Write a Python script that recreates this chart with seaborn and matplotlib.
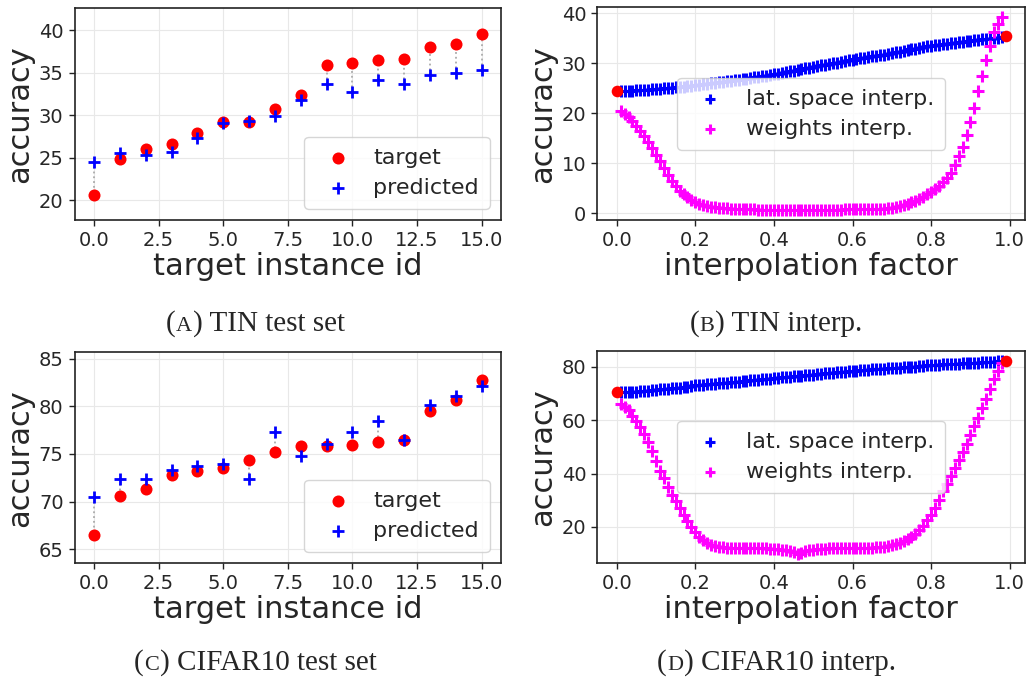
"""
Target vs predicted accuracy and interpolation curves (TIN / CIFAR10)
"""

import numpy as np
import pandas as pd
import matplotlib
matplotlib.use("Agg")
import matplotlib.pyplot as plt
import seaborn as sns
from matplotlib.offsetbox import TextArea, HPacker, AnchoredOffsetbox

# ---- data: per-instance accuracy ----
instance_ids = list(range(16))

tin_target = [20.7, 24.9, 26.0, 26.7, 27.9, 29.2, 29.2, 30.75, 32.4, 35.95,
              36.15, 36.5, 36.6, 38.1, 38.4, 39.6]
tin_predicted = [24.5, 25.6, 25.4, 25.7, 27.4, 29.1, 29.4, 29.9, 31.8, 33.7,
                 32.7, 34.2, 33.7, 34.7, 35.0, 35.4]

cifar_target = [66.5, 70.6, 71.35, 72.8, 73.25, 73.55, 74.35, 75.2, 75.8, 75.85,
                75.9, 76.3, 76.5, 79.5, 80.65, 82.8]
cifar_predicted = [70.5, 72.4, 72.4, 73.3, 73.7, 73.9, 72.4, 77.3, 74.8, 76.0,
                   77.35, 78.5, 76.45, 80.15, 81.1, 82.2]

# ---- data: interpolation curves ----
interp_factor = np.arange(1, 99) / 100
endpoint_x = [0.0, 0.99]

tin_latent = [24.4, 24.4, 24.5, 24.5, 24.6, 24.6, 24.7, 24.7, 24.8, 24.9,
              24.9, 25.0, 25.0, 25.1, 25.2, 25.2, 25.3, 25.4, 25.5, 25.6,
              25.7, 25.8, 25.9, 26.0, 26.1, 26.2, 26.3, 26.4, 26.5, 26.6,
              26.7, 26.8, 26.9, 27.0, 27.2, 27.3, 27.4, 27.5, 27.7, 27.8,
              27.9, 28.1, 28.2, 28.4, 28.5, 28.7, 28.8, 29.0, 29.1, 29.3,
              29.4, 29.6, 29.7, 29.9, 30.0, 30.1, 30.3, 30.4, 30.6, 30.7,
              30.8, 31.0, 31.1, 31.2, 31.4, 31.5, 31.6, 31.7, 31.9, 32.0,
              32.2, 32.3, 32.5, 32.6, 32.8, 32.9, 33.1, 33.2, 33.4, 33.5,
              33.6, 33.7, 33.8, 33.9, 34.0, 34.1, 34.2, 34.3, 34.4, 34.5,
              34.6, 34.7, 34.8, 34.9, 34.9, 35.0, 35.1, 35.2]
tin_weights = [20.5, 19.8, 19.2, 18.5, 17.5, 16.5, 15.5, 14.3, 13.1, 11.7,
               10.5, 9.0, 7.7, 6.5, 5.5, 4.5, 3.8, 3.2, 2.7, 2.3,
               1.9, 1.7, 1.5, 1.3, 1.2, 1.1, 1.0, 1.0, 0.9, 0.9,
               0.9, 0.8, 0.8, 0.8, 0.8, 0.7, 0.7, 0.7, 0.7, 0.7,
               0.6, 0.6, 0.6, 0.6, 0.6, 0.6, 0.6, 0.6, 0.6, 0.6,
               0.6, 0.6, 0.7, 0.7, 0.7, 0.7, 0.7, 0.8, 0.8, 0.8,
               0.8, 0.8, 0.9, 0.9, 0.9, 0.9, 0.9, 0.9, 1.0, 1.0,
               1.2, 1.4, 1.7, 1.9, 2.3, 2.5, 2.9, 3.3, 3.9, 4.2,
               4.9, 5.5, 6.3, 7.0, 8.0, 9.6, 11.5, 13.3, 15.7, 18.2,
               21.0, 24.5, 27.5, 30.7, 33.5, 36.2, 37.9, 39.3]
tin_endpoints = [24.5, 35.4]

cifar_latent = [70.5, 70.5, 70.6, 70.6, 70.7, 70.8, 70.9, 71.0, 71.2, 71.4,
                71.5, 71.6, 71.8, 71.9, 72.1, 72.2, 72.4, 72.6, 72.8, 73.0,
                73.1, 73.3, 73.4, 73.5, 73.7, 73.8, 73.9, 74.0, 74.2, 74.3,
                74.4, 74.6, 74.7, 74.9, 75.0, 75.2, 75.3, 75.5, 75.6, 75.8,
                75.9, 76.0, 76.2, 76.3, 76.4, 76.6, 76.7, 76.8, 77.0, 77.1,
                77.3, 77.4, 77.6, 77.7, 77.8, 78.0, 78.1, 78.2, 78.4, 78.5,
                78.6, 78.7, 78.8, 78.9, 79.0, 79.1, 79.2, 79.3, 79.4, 79.5,
                79.6, 79.7, 79.8, 79.9, 80.0, 80.1, 80.2, 80.4, 80.5, 80.6,
                80.7, 80.8, 80.9, 81.0, 81.0, 81.1, 81.2, 81.3, 81.4, 81.5,
                81.6, 81.6, 81.7, 81.8, 81.9, 81.9, 82.0, 82.1]
cifar_weights = [66.0, 65.0, 63.7, 61.7, 59.8, 57.4, 54.8, 51.8, 48.6, 44.8,
                 41.1, 38.3, 34.8, 31.9, 29.6, 27.1, 24.6, 22.1, 19.9, 18.0,
                 16.4, 15.1, 14.1, 13.4, 12.9, 12.6, 12.4, 12.3, 12.2, 12.2,
                 12.2, 12.2, 12.2, 12.2, 12.1, 12.1, 12.1, 12.0, 11.9, 11.8,
                 11.6, 11.4, 11.2, 10.9, 10.5, 10.0, 10.4, 10.9, 11.2, 11.5,
                 11.7, 11.8, 11.9, 12.0, 12.0, 12.0, 12.1, 12.1, 12.1, 12.2,
                 12.2, 12.2, 12.2, 12.3, 12.3, 12.4, 12.5, 12.6, 12.8, 13.1,
                 13.6, 14.1, 14.6, 15.5, 16.3, 17.5, 18.8, 20.5, 22.5, 24.6,
                 27.1, 30.1, 33.3, 36.1, 39.1, 42.1, 45.1, 48.1, 51.2, 54.6,
                 57.7, 60.8, 64.5, 68.0, 71.5, 75.5, 78.5, 81.5]
cifar_endpoints = [70.5, 82.3]

captions = [("A", "TIN test set"), ("B", "TIN interp."),
            ("C", "CIFAR10 test set"), ("D", "CIFAR10 interp.")]

sns.set_style("ticks")
plt.rcParams['font.family'] = ['DejaVu Sans']
plt.rcParams['axes.edgecolor'] = '#222222'
plt.rcParams['xtick.labelsize'] = 14
plt.rcParams['ytick.labelsize'] = 14


def style_axis(ax, xlabel):
    """Grid, labels and ticks shared by all panels"""
    ax.grid(True, color='#e8e8e8', linewidth=0.8)
    ax.set_axisbelow(True)
    ax.set_xlabel(xlabel, fontsize=22, labelpad=1)
    ax.set_ylabel('accuracy', fontsize=22, labelpad=3)
    ax.tick_params(length=4, width=1, color='#222222', pad=4)
    for spine in ax.spines.values():
        spine.set_linewidth(1.2)


def plot_instances(ax, target, predicted, ylim):
    """Target vs predicted accuracy per instance"""
    ax.vlines(instance_ids, predicted, target, colors='#aaaaaa',
              linestyles=':', linewidth=1.3, zorder=1)
    sns.scatterplot(x=instance_ids, y=target, color='red', s=75,
                    linewidth=0, label='target', ax=ax, zorder=2)
    sns.scatterplot(x=instance_ids, y=predicted, color='blue', marker='+',
                    s=80, linewidth=2, label='predicted', ax=ax, zorder=3)
    ax.set_xlim(-0.75, 15.75)
    ax.set_ylim(*ylim)
    ax.set_xticks([0, 2.5, 5, 7.5, 10, 12.5, 15])
    ax.set_xticklabels(['0.0', '2.5', '5.0', '7.5', '10.0', '12.5', '15.0'])
    ax.legend(loc='lower right', fontsize=16, handletextpad=0.6,
              borderpad=0.5, labelspacing=0.45)
    style_axis(ax, 'target instance id')


def plot_interp(ax, latent, weights, endpoints):
    """Accuracy along latent space vs weights interpolation"""
    sns.scatterplot(x=interp_factor, y=latent, color='blue', marker='+',
                    s=80, linewidth=2.2, label='lat. space interp.', ax=ax)
    sns.scatterplot(x=interp_factor, y=weights, color='magenta', marker='+',
                    s=80, linewidth=2.2, label='weights interp.', ax=ax)
    sns.scatterplot(x=endpoint_x, y=endpoints, color='red', s=70,
                    linewidth=0, ax=ax, zorder=4)
    ax.set_xticks([0.0, 0.2, 0.4, 0.6, 0.8, 1.0])
    ax.set_xticklabels(['0.0', '0.2', '0.4', '0.6', '0.8', '1.0'])
    ax.legend(loc='center', fontsize=16, handletextpad=0.6,
              borderpad=0.5, labelspacing=0.45, markerscale=0.8)
    style_axis(ax, 'interpolation factor')


def add_caption(fig, letter, text, x, y):
    """Caption like '(A) TIN test set' with a small-caps letter"""
    serif = ['Liberation Serif', 'DejaVu Serif']
    parts = [TextArea('(', textprops=dict(fontsize=21, family=serif)),
             TextArea(letter, textprops=dict(fontsize=16, family=serif)),
             TextArea(') ' + text, textprops=dict(fontsize=21, family=serif))]
    box = HPacker(children=parts, align='baseline', pad=0, sep=0.5)
    anchored = AnchoredOffsetbox(loc='lower center', child=box, pad=0,
                                 borderpad=0, frameon=False,
                                 bbox_to_anchor=(x, y),
                                 bbox_transform=fig.transFigure)
    fig.add_artist(anchored)


fig = plt.figure(figsize=(10.27, 6.81), dpi=100)
ax_a = fig.add_axes([0.0727, 0.6769, 0.4151, 0.3109])
ax_b = fig.add_axes([0.5816, 0.6769, 0.4167, 0.3124])
ax_c = fig.add_axes([0.0727, 0.1728, 0.4151, 0.3099])
ax_d = fig.add_axes([0.5816, 0.1728, 0.4167, 0.3118])

plot_instances(ax_a, tin_target, tin_predicted, (17.7, 42.6))
plot_interp(ax_b, tin_latent, tin_weights, tin_endpoints)
plot_instances(ax_c, cifar_target, cifar_predicted, (63.5, 85.7))
plot_interp(ax_d, cifar_latent, cifar_weights, cifar_endpoints)

caption_pos = [(255 / 1027, 0.505), (776 / 1027, 0.505),
               (255 / 1027, 0.007), (776 / 1027, 0.007)]
for (letter, text), (cx, cy) in zip(captions, caption_pos):
    add_caption(fig, letter, text, cx, cy)

fig.savefig('out.png', dpi=100)
